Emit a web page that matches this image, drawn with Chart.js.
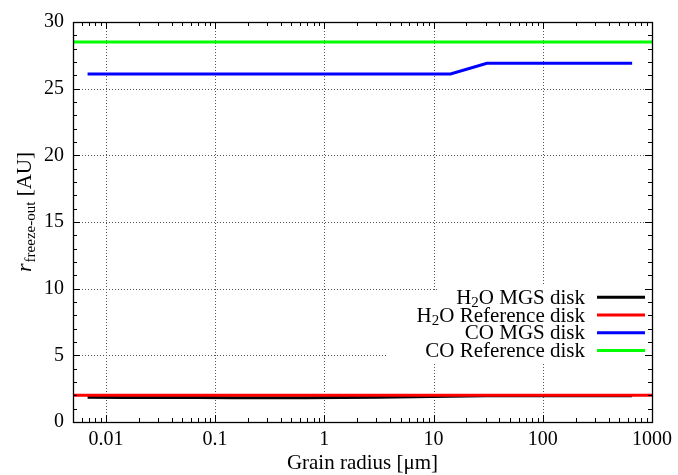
<!DOCTYPE html>
<html>
<head>
<meta charset="utf-8">
<script src="https://cdn.jsdelivr.net/npm/chart.js@4.4.1/dist/chart.umd.min.js"></script>
<style>
  html, body { margin: 0; padding: 0; background: #fff; }
  #wrap { width: 678px; height: 475px; position: relative; }
</style>
</head>
<body>
<div id="wrap"><canvas id="c" width="678" height="475"></canvas></div>
<script>
// ---- data ----
const grainRadius = [0.0068, 0.0146, 0.0314, 0.0675, 0.145, 0.312, 0.671, 1.44, 3.1, 6.67, 14.3, 30.8, 66.3, 142, 306, 658];
const h2oMGS = [1.85, 1.84, 1.83, 1.83, 1.82, 1.82, 1.82, 1.83, 1.85, 1.89, 1.93, 1.96, 1.97, 1.97, 1.97, 1.97];
const coMGS  = [26.1, 26.1, 26.1, 26.1, 26.1, 26.1, 26.1, 26.1, 26.1, 26.1, 26.1, 26.9, 26.9, 26.9, 26.9, 26.9];
const refRadius = [0.005, 1000];
const h2oRef = [2.0, 2.0];
const coRef  = [28.5, 28.5];
const seriesLabels = ['H₂O MGS disk', 'H₂O Reference disk', 'CO MGS disk', 'CO Reference disk'];
const seriesColors = ['#000000', '#ff0000', '#0000ff', '#00ff00'];
const xTickValues = [0.01, 0.1, 1, 10, 100, 1000];
const xTickLabels = ['0.01', '0.1', '1', '10', '100', '1000'];
const yTickValues = [0, 5, 10, 15, 20, 25, 30];
const xTitle = 'Grain radius [μm]';
const yTitleMain = 'r';
const yTitleSub = 'freeze-out';
const yTitleRest = ' [AU]';

const FONT = '"Liberation Serif", "DejaVu Serif", serif';
const TEXT_SIZE = 21;
const TICK_SIZE = 20;

function pts(xs, ys) { return xs.map((x, i) => ({ x: x, y: ys[i] })); }

function richParts(str) {
  const parts = [];
  let buf = '';
  for (const ch of str) {
    if (ch === '₂') { if (buf) parts.push({ t: buf, sub: false }); buf = ''; parts.push({ t: '2', sub: true }); }
    else buf += ch;
  }
  if (buf) parts.push({ t: buf, sub: false });
  return parts;
}
function drawRichRight(ctx, str, xr, y, size) {
  const parts = richParts(str);
  const big = size + 'px ' + FONT, small = Math.round(size * 0.7) + 'px ' + FONT;
  let w = 0;
  parts.forEach(p => { ctx.font = p.sub ? small : big; p.w = ctx.measureText(p.t).width; w += p.w; });
  let x = xr - w;
  ctx.textAlign = 'left';
  parts.forEach(p => {
    ctx.font = p.sub ? small : big;
    ctx.fillText(p.t, x, p.sub ? y + size * 0.22 : y);
    x += p.w;
  });
}

const framePlugin = {
  id: 'frame',
  beforeDatasetsDraw(chart) {
    const { ctx, chartArea: a, scales: { x, y } } = chart;
    ctx.save();
    ctx.strokeStyle = '#555';
    ctx.lineWidth = 1;
    ctx.setLineDash([1, 2]);
    xTickValues.forEach(v => {
      if (v >= 1000) return;
      const px = Math.round(x.getPixelForValue(v)) + 0.5;
      ctx.beginPath(); ctx.moveTo(px, a.top); ctx.lineTo(px, a.bottom); ctx.stroke();
    });
    yTickValues.forEach(v => {
      if (v <= 0 || v >= 30) return;
      const py = Math.round(y.getPixelForValue(v)) + 0.5;
      ctx.beginPath(); ctx.moveTo(a.left, py); ctx.lineTo(a.right, py); ctx.stroke();
    });
    ctx.setLineDash([]);
    // opaque key background
    ctx.fillStyle = '#fff';
    ctx.fillRect(437, 286, a.right - 437 - 1, 77);
    ctx.fillRect(386, 292, 52, 71);
    ctx.restore();
  },
  afterDatasetsDraw(chart) {
    const { ctx, chartArea: a, scales: { x, y } } = chart;
    ctx.save();
    ctx.strokeStyle = '#000';
    ctx.lineWidth = 1;
    for (let e = -3; e <= 3; e++) {
      for (let s = 1; s <= 9; s++) {
        const v = s * Math.pow(10, e);
        if (v < 0.005 * 0.999 || v > 1000 * 1.001) continue;
        const px = Math.round(x.getPixelForValue(v)) + 0.5;
        const len = s === 1 ? 7 : 4;
        ctx.beginPath();
        ctx.moveTo(px, a.bottom); ctx.lineTo(px, a.bottom - len);
        ctx.moveTo(px, a.top); ctx.lineTo(px, a.top + len);
        ctx.stroke();
      }
    }
    for (let v = 0; v <= 30; v++) {
      const py = Math.round(y.getPixelForValue(v)) + 0.5;
      const len = v % 5 === 0 ? 7 : 4;
      ctx.beginPath();
      ctx.moveTo(a.left, py); ctx.lineTo(a.left + len, py);
      ctx.moveTo(a.right, py); ctx.lineTo(a.right - len, py);
      ctx.stroke();
    }
    ctx.lineWidth = 1.3;
    ctx.strokeRect(Math.round(a.left) + 0.5, Math.round(a.top) + 0.5, Math.round(a.right - a.left), Math.round(a.bottom - a.top));
    ctx.restore();
  },
  afterDraw(chart) {
    const { ctx, chartArea: a } = chart;
    ctx.save();
    ctx.fillStyle = '#000';
    ctx.textBaseline = 'middle';
    chart.data.datasets.forEach((ds, i) => {
      const yy = 297.3 + i * 17.7;
      drawRichRight(ctx, ds.label, 585, yy + 1, TEXT_SIZE);
      ctx.strokeStyle = ds.borderColor;
      ctx.lineWidth = 3;
      ctx.beginPath(); ctx.moveTo(597, yy); ctx.lineTo(645, yy); ctx.stroke();
    });
    ctx.textBaseline = 'alphabetic';
    ctx.textAlign = 'center';
    ctx.font = TEXT_SIZE + 'px ' + FONT;
    ctx.fillText(xTitle, (a.left + a.right) / 2, 469);
    // y title with subscript
    ctx.translate(31, 212);
    ctx.rotate(-Math.PI / 2);
    const fMain = 'italic 22px ' + FONT, fSub = '15px ' + FONT, fRest = TEXT_SIZE + 'px ' + FONT;
    ctx.font = fMain; const w1 = ctx.measureText(yTitleMain).width + 1;
    ctx.font = fSub; const w2 = ctx.measureText(yTitleSub).width;
    ctx.font = fRest; const w3 = ctx.measureText(yTitleRest).width;
    let xx = -(w1 + w2 + w3) / 2;
    ctx.textAlign = 'left';
    ctx.font = fMain; ctx.fillText(yTitleMain, xx, 0); xx += w1;
    ctx.font = fSub; ctx.fillText(yTitleSub, xx, 4); xx += w2;
    ctx.font = fRest; ctx.fillText(yTitleRest, xx, 0);
    ctx.restore();
  }
};

new Chart(document.getElementById('c'), {
  type: 'line',
  data: {
    datasets: [
      { label: seriesLabels[0], data: pts(grainRadius, h2oMGS), borderColor: seriesColors[0], order: 2 },
      { label: seriesLabels[1], data: pts(refRadius, h2oRef), borderColor: seriesColors[1], order: 1 },
      { label: seriesLabels[2], data: pts(grainRadius, coMGS), borderColor: seriesColors[2], order: 3 },
      { label: seriesLabels[3], data: pts(refRadius, coRef), borderColor: seriesColors[3], order: 4 }
    ]
  },
  options: {
    responsive: false,
    animation: false,
    events: [],
    layout: { padding: { top: 22, right: 23, left: 0, bottom: 0 } },
    elements: {
      line: { borderWidth: 3, tension: 0, fill: false, borderCapStyle: 'butt' },
      point: { radius: 0 }
    },
    plugins: { legend: { display: false }, tooltip: { enabled: false }, title: { display: false } },
    scales: {
      x: {
        type: 'logarithmic',
        min: 0.005, max: 1000,
        grid: { display: false, drawTicks: false },
        border: { display: false },
        afterBuildTicks: s => { s.ticks = xTickValues.map(v => ({ value: v })); },
        afterFit: s => { s.height = 53; },
        ticks: {
          autoSkip: false, maxRotation: 0, padding: 6,
          color: '#000', font: { family: FONT, size: TICK_SIZE },
          callback: (v) => { const i = xTickValues.findIndex(t => Math.abs(t - v) / t < 1e-6); return i >= 0 ? xTickLabels[i] : null; }
        }
      },
      y: {
        type: 'linear',
        min: 0, max: 30,
        grid: { display: false, drawTicks: false },
        border: { display: false },
        afterBuildTicks: s => { s.ticks = yTickValues.map(v => ({ value: v })); },
        afterFit: s => { s.width = 73; },
        ticks: { padding: 9, color: '#000', font: { family: FONT, size: TICK_SIZE } }
      }
    }
  },
  plugins: [framePlugin]
});
</script>
</body>
</html>
